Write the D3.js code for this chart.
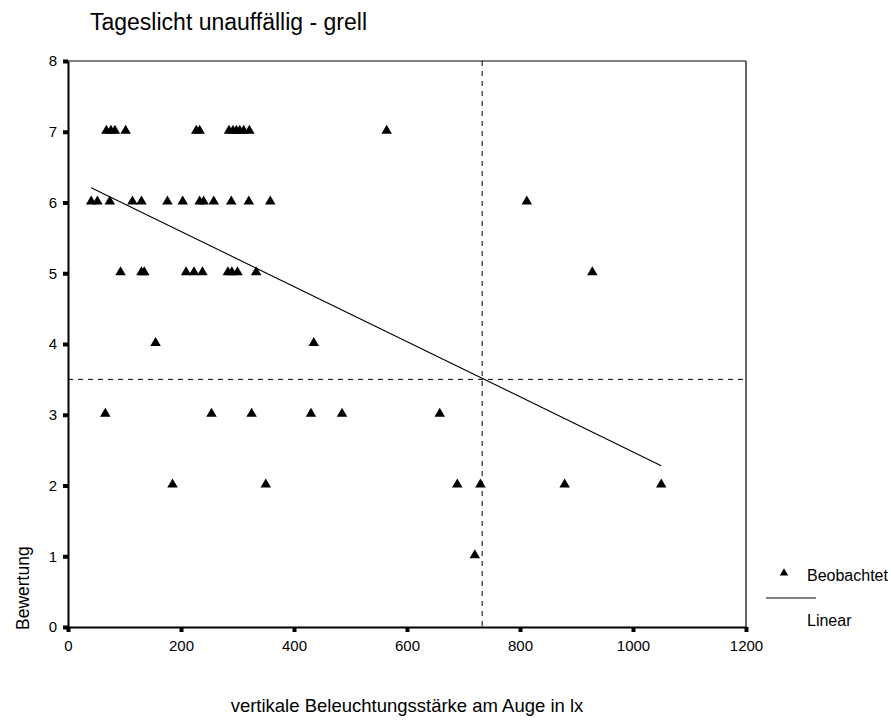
<!DOCTYPE html>
<html>
<head>
<meta charset="utf-8">
<script src="https://cdn.jsdelivr.net/npm/d3@7"></script>
<style>
  body { margin: 0; background: #fff; }
  text { font-family: "Liberation Sans", Arial, sans-serif; fill: #000; }
</style>
</head>
<body>
<div id="chart"></div>
<script>
// observed values (lx, rating)
var luxValues = [
    68, 76, 83, 102, 227, 233, 285, 292, 298, 304, 311, 321, 564,
    41, 52, 74, 114, 130, 176, 203, 233, 240, 258, 289, 320, 358, 812,
    93, 130, 135, 209, 223, 238, 283, 290, 300, 333, 928,
    155, 435,
    66, 254, 325, 430, 485, 658,
    185, 350, 689, 730, 879, 1050,
    720
];
var ratingValues = [
    7, 7, 7, 7, 7, 7, 7, 7, 7, 7, 7, 7, 7,
    6, 6, 6, 6, 6, 6, 6, 6, 6, 6, 6, 6, 6, 6,
    5, 5, 5, 5, 5, 5, 5, 5, 5, 5, 5,
    4, 4,
    3, 3, 3, 3, 3, 3,
    2, 2, 2, 2, 2, 2,
    1
];
// linear fit, end points
var fitLux = [41, 1050];
var fitRating = [6.21, 2.28];
// reference lines
var refLux = 733;
var refRating = 3.5;

var xTicks = [0, 200, 400, 600, 800, 1000, 1200];
var yTicks = [0, 1, 2, 3, 4, 5, 6, 7, 8];

var margin = {top: 61, right: 145, bottom: 93, left: 68},
    width = 891 - margin.left - margin.right,
    height = 720 - margin.top - margin.bottom;

var x = d3.scaleLinear().domain([0, 1200]).range([0, width]);
var y = d3.scaleLinear().domain([0, 8]).range([height, 0]);

var svg = d3.select("#chart").append("svg")
    .attr("width", 891)
    .attr("height", 720);

var g = svg.append("g")
    .attr("transform", "translate(" + margin.left + "," + margin.top + ")");

// title
svg.append("text")
    .attr("x", 90)
    .attr("y", 30)
    .style("font-size", "23px")
    .text("Tageslicht unauffällig - grell");

// frame top/right
g.append("line").attr("x1", 0).attr("x2", width).attr("y1", 0).attr("y2", 0)
    .attr("stroke", "#000").attr("stroke-width", 1);
g.append("line").attr("x1", width).attr("x2", width).attr("y1", 0).attr("y2", height)
    .attr("stroke", "#333").attr("stroke-width", 1.5);

// reference dashed lines
g.append("line")
    .attr("x1", x(refLux)).attr("x2", x(refLux))
    .attr("y1", 0).attr("y2", height)
    .attr("stroke", "#000").attr("stroke-width", 1)
    .attr("stroke-dasharray", "5,5");
g.append("line")
    .attr("x1", 0).attr("x2", width)
    .attr("y1", y(refRating)).attr("y2", y(refRating))
    .attr("stroke", "#000").attr("stroke-width", 1)
    .attr("stroke-dasharray", "5,5");

// axes
var xAxis = d3.axisBottom(x).tickValues(xTicks).tickFormat(d3.format("d"))
    .tickSize(0).tickPadding(13);
var yAxis = d3.axisLeft(y).tickValues(yTicks).tickFormat(d3.format("d"))
    .tickSize(0).tickPadding(11);

var gx = g.append("g")
    .attr("transform", "translate(0," + height + ")")
    .call(xAxis);
var gy = g.append("g").call(yAxis);

[gx, gy].forEach(function(a) {
    a.select(".domain").attr("stroke", "#000").attr("stroke-width", 2);
    a.selectAll(".tick text")
        .style("font-size", "15px")
        .style("font-family", "'Liberation Sans', Arial, sans-serif");
});

// square tick marks
gx.selectAll(".tick").append("rect")
    .attr("x", -2).attr("y", 0).attr("width", 4).attr("height", 5)
    .attr("fill", "#000");
gy.selectAll(".tick").append("rect")
    .attr("x", -5).attr("y", -2).attr("width", 5).attr("height", 4)
    .attr("fill", "#000");

// fit line
var line = d3.line()
    .x(function(d) { return x(d[0]); })
    .y(function(d) { return y(d[1]); });
g.append("path")
    .datum(fitLux.map(function(v, i) { return [v, fitRating[i]]; }))
    .attr("d", line)
    .attr("fill", "none")
    .attr("stroke", "#000")
    .attr("stroke-width", 1.1);

// points
var tri = d3.symbol().type(d3.symbolTriangle).size(48);
g.selectAll(".pt")
    .data(luxValues.map(function(v, i) { return [v, ratingValues[i]]; }))
    .enter().append("path")
    .attr("class", "pt")
    .attr("d", tri)
    .attr("transform", function(d) {
        return "translate(" + x(d[0]) + "," + (y(d[1]) - 1) + ")";
    })
    .attr("fill", "#000");

// axis titles
svg.append("text")
    .attr("transform", "translate(29,630) rotate(-90)")
    .style("font-size", "17.5px")
    .text("Bewertung");

svg.append("text")
    .attr("x", margin.left + width / 2)
    .attr("y", 712)
    .attr("text-anchor", "middle")
    .style("font-size", "18.5px")
    .text("vertikale Beleuchtungsstärke am Auge in lx");

// legend
var leg = svg.append("g");
leg.append("path")
    .attr("d", d3.symbol().type(d3.symbolTriangle).size(30))
    .attr("transform", "translate(784,573)")
    .attr("fill", "#000");
leg.append("text")
    .attr("x", 807).attr("y", 581)
    .style("font-size", "16px")
    .text("Beobachtet");
leg.append("line")
    .attr("x1", 766).attr("x2", 816)
    .attr("y1", 598).attr("y2", 598)
    .attr("stroke", "#000").attr("stroke-width", 1);
leg.append("text")
    .attr("x", 807).attr("y", 626)
    .style("font-size", "16px")
    .text("Linear");
</script>
</body>
</html>
